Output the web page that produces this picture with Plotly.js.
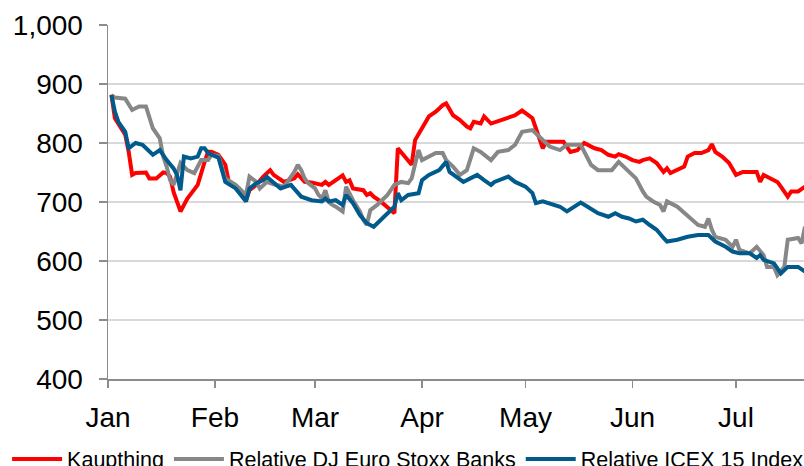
<!DOCTYPE html>
<html>
<head>
<meta charset="utf-8">
<script src="https://cdn.plot.ly/plotly-3.0.1.min.js"></script>
<style>html,body{margin:0;padding:0;background:#fff;overflow:hidden}#chart{width:804px;height:466px}</style>
</head>
<body>
<div id="chart"></div>
<script>
// Day-of-year offsets (0 = 1 Jan 2008) and index values
const kaupDays = [1,2,5,6,7,8,11,12,14,16,17,18,19,21,23,25,26,28,29,30,32,34,35,38,40,41,43,45,47,48,51,54,55,57,59,62,63,64,66,68,69,70,71,74,75,76,77,79,82,83,84,86,88,89,92,93,95,97,98,100,102,104,105,106,108,109,111,115,118,120,121,123,124,126,127,132,134,136,138,141,143,145,147,148,150,152,154,155,157,159,161,162,163,167,168,170,172,174,175,176,178,180,182,184,188,189,190,192,194,195,197,198,200,202];
const kaupVals = [882,842,814,785,746,749,750,740,740,750,749,743,717,684,706,723,729,768,785,785,780,763,734,723,703,720,729,743,754,746,734,740,747,734,733,729,734,729,737,745,734,737,723,720,712,715,709,701,686,681,791,777,763,805,836,845,853,864,867,847,839,828,825,836,833,845,833,842,847,855,850,842,825,791,802,802,785,788,800,791,788,780,777,781,777,771,768,771,774,766,751,757,749,760,777,783,783,788,798,785,777,766,746,751,751,734,746,740,734,726,709,718,718,726];

const djDays = [1,2,5,6,7,9,11,13,14,15,16,17,18,19,21,23,25,27,29,30,32,34,37,39,40,41,43,44,46,48,51,54,55,56,57,58,60,61,62,63,64,65,66,68,69,71,73,74,75,76,78,81,83,85,87,88,89,90,91,93,95,97,98,100,101,102,104,106,108,111,113,116,118,120,123,125,126,128,131,133,137,139,140,142,146,148,150,152,153,155,156,158,160,161,162,165,167,169,171,173,174,175,176,179,181,182,183,186,188,190,191,193,194,196,197,200,201,202];
const djVals = [881,877,875,864,856,862,862,825,816,808,777,760,737,729,766,754,749,771,771,780,778,740,729,718,712,743,734,723,734,730,726,751,763,754,740,732,723,712,706,720,700,695,692,684,726,703,684,670,661,686,695,712,729,734,732,740,763,788,771,777,783,783,771,760,754,746,754,791,785,771,785,788,797,819,822,811,805,794,788,797,797,774,763,754,754,768,757,746,740,718,709,701,695,684,701,692,681,670,661,658,672,653,641,636,624,636,619,613,624,610,590,590,576,590,636,639,630,658];

const icexDays = [1,2,3,5,6,8,10,11,13,15,17,19,20,21,22,24,26,27,28,29,31,32,34,37,40,41,43,45,46,48,50,53,56,59,62,63,64,66,68,69,71,73,75,77,79,81,83,84,85,87,90,91,93,96,98,99,101,103,105,107,109,111,112,115,116,118,121,123,124,126,128,131,133,137,139,142,145,147,149,151,153,155,157,159,161,162,165,168,171,174,176,179,181,183,186,188,189,190,193,195,197,200,202];
const icexVals = [881,853,836,819,791,800,797,791,780,788,771,757,746,720,777,774,777,791,791,783,777,775,734,723,701,723,732,737,743,732,723,729,709,703,701,706,701,703,695,712,698,678,664,658,670,681,692,715,703,712,715,737,746,754,768,751,743,734,740,746,737,729,734,740,743,734,726,715,698,701,698,692,684,699,692,681,675,681,675,672,667,670,661,653,639,633,636,641,644,644,633,624,616,613,613,605,610,602,596,579,590,590,582];

const seriesNames = ["Kaupthing", "Relative DJ Euro Stoxx Banks", "Relative ICEX 15 Index"];
const monthTicks = ["2008-01-01","2008-02-01","2008-03-01","2008-04-01","2008-05-01","2008-06-01","2008-07-01"];
const monthLabels = ["Jan","Feb","Mar","Apr","May","Jun","Jul"];
const yTicks = [400,500,600,700,800,900,1000];

function toDates(days){
  return days.map(d => new Date(Date.UTC(2008,0,1+d)).toISOString().slice(0,10));
}

const colors = ["#FF0000", "#878787", "#005B8C"];
const traces = [
  {x: toDates(kaupDays), y: kaupVals, name: seriesNames[0]},
  {x: toDates(djDays), y: djVals, name: seriesNames[1]},
  {x: toDates(icexDays), y: icexVals, name: seriesNames[2]}
].map((t,i) => Object.assign(t, {type:"scatter", mode:"lines", line:{color:colors[i], width:4}, hoverinfo:"skip"}));

const font = "Liberation Sans, Arial, sans-serif";
const layout = {
  width: 804, height: 466,
  margin: {l:108, r:0, t:25, b:87, autoexpand:false},
  paper_bgcolor: "#fff", plot_bgcolor: "#fff",
  showlegend: true,
  legend: {orientation:"h", x:-0.145, xanchor:"left", y:-0.168, yanchor:"top",
           font:{family:font, size:21.5, color:"#000"}, itemwidth:50, traceorder:"normal"},
  xaxis: {type:"date", range:["2008-01-01","2008-07-20 17:00"],
          tickvals: monthTicks, ticktext: monthLabels,
          showgrid:false, zeroline:false, showline:true, linecolor:"#8c8c8c", linewidth:1.5,
          ticks:"outside", ticklen:7, tickcolor:"#8c8c8c", tickwidth:1.5,
          tickfont:{family:font, size:28, color:"#000"}, ticklabelstandoff:6, fixedrange:true},
  yaxis: {range:[400,1000], tickvals:yTicks, tickformat:",",
          showgrid:true, gridcolor:"#d9d9d9", gridwidth:1.5, zeroline:false,
          showline:true, linecolor:"#8c8c8c", linewidth:1.5,
          ticks:"outside", ticklen:8, tickcolor:"#8c8c8c", tickwidth:1.5,
          tickfont:{family:font, size:28, color:"#000"}, ticklabelstandoff:10, fixedrange:true}
};

Plotly.newPlot("chart", traces, layout, {displayModeBar:false, staticPlot:true});
</script>
</body>
</html>
